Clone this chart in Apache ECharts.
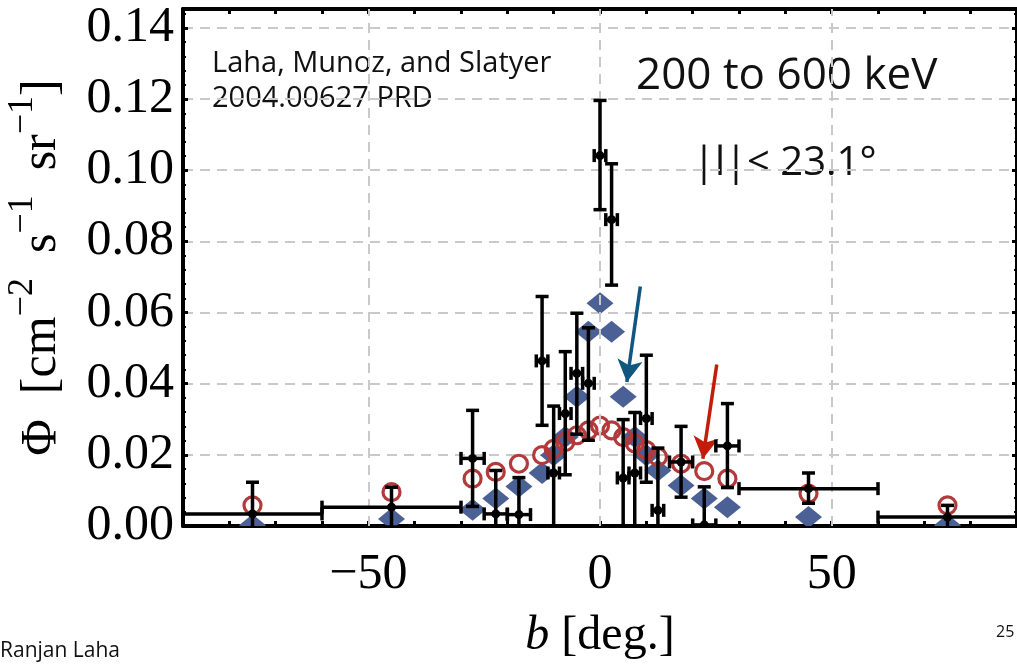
<!DOCTYPE html>
<html>
<head>
<meta charset="utf-8">
<script src="https://cdn.jsdelivr.net/npm/echarts@6/dist/echarts.min.js"></script>
<style>
  html, body { margin: 0; padding: 0; background: #ffffff; }
  #chart { width: 1017px; height: 668px; }
</style>
</head>
<body>
<div id="chart"></div>
<script>
// Measured flux per latitude bin (deg) with bin edges and 1-sigma range
const bCenter = [-75, -45, -27.5, -22.5, -17.5, -12.5, -10, -7.5, -5, -2.5, 0, 2.5, 5, 7.5, 10, 12.5, 17.5, 22.5, 27.5, 45, 75];
const bLow    = [-90, -60, -30, -25, -20, -13.75, -11.25, -8.75, -6.25, -3.75, -1.25, 1.25, 3.75, 6.25, 8.75, 11.25, 15, 20, 25, 30, 60];
const bHigh   = [-60, -30, -25, -20, -15, -11.25, -8.75, -6.25, -3.75, -1.25, 1.25, 3.75, 6.25, 8.75, 11.25, 13.75, 20, 25, 30, 60, 90];
const phi     = [0.0034, 0.0053, 0.0190, 0.0034, 0.0032, 0.0464, 0.0149, 0.0316, 0.0429, 0.0401, 0.1041, 0.0861, 0.0135, 0.0149, 0.0302, 0.0044, 0.0180, 0.0003, 0.0225, 0.0105, 0.0025];
const phiLow  = [-0.0055, -0.0003, 0.0055, -0.0088, -0.0072, 0.0283, -0.0039, 0.0144, 0.0258, 0.0241, 0.0889, 0.0677, -0.0030, -0.0020, 0.0123, -0.0130, 0.0081, -0.0104, 0.0108, 0.0064, -0.0008];
const phiHigh = [0.0123, 0.0109, 0.0325, 0.0156, 0.0136, 0.0645, 0.0337, 0.0490, 0.0598, 0.0557, 0.1196, 0.1018, 0.0299, 0.0319, 0.0480, 0.0219, 0.0280, 0.0110, 0.0344, 0.0149, 0.0058];

// Model predictions at the same bin centres
const modelB       = [-75, -45, -27.5, -22.5, -17.5, -12.5, -10, -7.5, -5, -2.5, 0, 2.5, 5, 7.5, 10, 12.5, 17.5, 22.5, 27.5, 45, 75];
const modelDiamond = [0.0002, 0.0020, 0.0046, 0.0077, 0.0111, 0.0149, 0.0199, 0.0250, 0.0363, 0.0546, 0.0626, 0.0546, 0.0363, 0.0250, 0.0199, 0.0156, 0.0114, 0.0077, 0.0053, 0.0025, 0.0002];
const modelCircle  = [0.0058, 0.0095, 0.0133, 0.0152, 0.0175, 0.0199, 0.0217, 0.0236, 0.0255, 0.0269, 0.0282, 0.0269, 0.0250, 0.0232, 0.0213, 0.0194, 0.0175, 0.0154, 0.0133, 0.0091, 0.0058];

// Axis ticks
const xLabelTicks = [-50, 0, 50];
const yLabelTicks = [0, 0.02, 0.04, 0.06, 0.08, 0.10, 0.12, 0.14];

// Arrow annotations [start, end] in data units
const blueArrow = [[8.7, 0.0673], [5.8, 0.0405]];
const redArrow  = [[25.2, 0.0454], [22.2, 0.0189]];

const serif = '"Liberation Serif", "DejaVu Serif", serif';
const hand = '"Open Sans", "Noto Sans", sans-serif';
const gridGray = '#c9c9c9';

const errorData = bCenter.map((b, i) => [b, bLow[i], bHigh[i], phi[i], phiLow[i], phiHigh[i]]);

function isLabelTick(v, list) {
  return list.some(t => Math.abs(t - v) < 1e-6);
}

// Black data point: horizontal bin bar, vertical error bar, end caps, dot
function renderError(params, api) {
  const x = api.value(0), xl = api.value(1), xh = api.value(2);
  const y = api.value(3), yl = api.value(4), yh = api.value(5);
  const c = api.coord([x, y]);
  const pl = api.coord([xl, y]);
  const ph = api.coord([xh, y]);
  const vl = api.coord([x, yl]);
  const vh = api.coord([x, yh]);
  const cap = 6.5;
  const st = { stroke: '#000', lineWidth: 3.5, fill: null };
  const seg = (x1, y1, x2, y2) => ({ type: 'line', shape: { x1, y1, x2, y2 }, style: st });
  return {
    type: 'group',
    children: [
      seg(vl[0], vl[1], vh[0], vh[1]),
      seg(vh[0] - cap, vh[1], vh[0] + cap, vh[1]),
      seg(vl[0] - cap, vl[1], vl[0] + cap, vl[1]),
      seg(pl[0], pl[1], ph[0], ph[1]),
      seg(pl[0], pl[1] - cap, pl[0], pl[1] + cap),
      seg(ph[0], ph[1] - cap, ph[0], ph[1] + cap),
      { type: 'circle', shape: { cx: c[0], cy: c[1], r: 4.5 }, style: { fill: '#000' } }
    ]
  };
}

// Filled diamond marker, clipped to the plot frame
function renderDiamond(params, api) {
  const p = api.coord([api.value(0), api.value(1)]);
  const hw = 13.5, hh = 11;
  return {
    type: 'polygon',
    shape: { points: [[p[0], p[1] - hh], [p[0] + hw, p[1]], [p[0], p[1] + hh], [p[0] - hw, p[1]]] },
    style: { fill: '#4b6095' }
  };
}

const chart = echarts.init(document.getElementById('chart'), null, { renderer: 'canvas' });

const xAxisBase = {
  type: 'value', min: -90, max: 90, interval: 10,
  axisLine: { show: true, onZero: false, lineStyle: { color: '#000', width: 4 } },
  axisTick: { show: true, inside: true, length: 5, lineStyle: { color: '#000', width: 3 } },
  splitLine: { show: false }
};
const yAxisBase = {
  type: 'value', min: 0, max: 0.1453, interval: 0.02,
  axisLine: { show: true, onZero: false, lineStyle: { color: '#000', width: 4 } },
  axisTick: { show: true, inside: true, length: 5, lineStyle: { color: '#000', width: 3 } },
  minorTick: { show: true, splitNumber: 5, length: 3, lineStyle: { color: '#000', width: 2 } }
};

chart.setOption({
  animation: false,
  backgroundColor: '#ffffff',
  grid: { left: 183, right: 0, top: 9, bottom: 142, containLabel: false, outerBoundsMode: 'none' },
  xAxis: [
    Object.assign({}, xAxisBase, {
      position: 'bottom',
      name: '{i|b} [deg.]',
      nameLocation: 'middle',
      nameGap: 86,
      nameTextStyle: {
        fontFamily: serif, fontSize: 48, color: '#000',
        rich: { i: { fontFamily: serif, fontStyle: 'italic', fontSize: 48, color: '#000' } }
      },
      axisLabel: {
        show: true, margin: 24, fontFamily: serif, fontSize: 50, color: '#000',
        showMinLabel: false, showMaxLabel: false,
        formatter: v => isLabelTick(v, xLabelTicks) ? (v < 0 ? '\u2212' + Math.abs(v) : String(v)) : ''
      }
    }),
    Object.assign({}, xAxisBase, { position: 'top', axisLabel: { show: false } })
  ],
  yAxis: [
    Object.assign({}, yAxisBase, {
      position: 'left',
      name: '{n|\u03A6\u2002[cm}{s|\u22122}{n|\u2002s}{s|\u22121}{n|\u2002sr}{s|\u22121}{n|]}',
      nameLocation: 'middle',
      nameGap: 116,
      nameRotate: 90,
      nameTextStyle: {
        color: '#000',
        rich: {
          n: { fontFamily: serif, fontSize: 50, color: '#000', lineHeight: 62, verticalAlign: 'bottom' },
          s: { fontFamily: serif, fontSize: 36, color: '#000', lineHeight: 62, verticalAlign: 'top' }
        }
      },
      axisLabel: {
        show: true, margin: 9, fontFamily: serif, fontSize: 50, color: '#000',
        showMaxLabel: false,
        formatter: v => isLabelTick(v, yLabelTicks) ? v.toFixed(2) : ''
      },
      splitLine: { show: true, lineStyle: { color: gridGray, width: 2, type: [10, 7] } }
    }),
    Object.assign({}, yAxisBase, { position: 'right', axisLabel: { show: false }, splitLine: { show: false } })
  ],
  series: [
    {
      // vertical dashed grid at labelled longitudes
      type: 'line', data: [], silent: true, z: 1,
      markLine: {
        silent: true, symbol: 'none', label: { show: false },
        lineStyle: { color: gridGray, width: 2, type: [10, 7] },
        data: xLabelTicks.map(v => ({ xAxis: v }))
      }
    },
    {
      name: 'diamond model', type: 'custom', z: 3, clip: true,
      renderItem: renderDiamond,
      encode: { x: 0, y: 1 },
      data: modelB.map((b, i) => [b, modelDiamond[i]])
    },
    {
      name: 'circle model', type: 'scatter', z: 4,
      symbol: 'circle', symbolSize: 17,
      itemStyle: { color: 'rgba(0,0,0,0)', borderColor: '#b3393a', borderWidth: 3.2, opacity: 1 },
      data: modelB.map((b, i) => [b, modelCircle[i]])
    },
    {
      name: 'data', type: 'custom', z: 5, clip: true,
      renderItem: renderError,
      encode: { x: [0, 1, 2], y: [3, 4, 5] },
      data: errorData
    },
    {
      type: 'line', data: [], silent: true, z: 6,
      markLine: {
        silent: true, symbol: ['none', 'arrow'], symbolSize: [19, 22], label: { show: false },
        data: [
          [{ coord: blueArrow[0], lineStyle: { color: '#11567f', width: 3.5, type: 'solid' } }, { coord: blueArrow[1] }],
          [{ coord: redArrow[0], lineStyle: { color: '#c21d0b', width: 3.5, type: 'solid' } }, { coord: redArrow[1] }]
        ]
      }
    }
  ],
  graphic: [
    { type: 'text', left: 212, top: 49, style: { text: 'Laha, Munoz, and Slatyer', font: '29px ' + hand, fill: '#111' } },
    { type: 'text', left: 212, top: 84, style: { text: '2004.00627 PRD', font: '29px ' + hand, fill: '#111' } },
    { type: 'text', left: 636, top: 54, style: { text: '200 to 600 keV', font: '44px ' + hand, fill: '#111' } },
    { type: 'text', left: 693, top: 144, style: { text: '|l|< 23.1\u00B0', font: '40px ' + hand, fill: '#111' } },
    { type: 'text', left: 0, top: 641, style: { text: 'Ranjan Laha', font: '21px ' + hand, fill: '#111' } },
    { type: 'text', left: 996, top: 624, style: { text: '25', font: '16px ' + hand, fill: '#111' } }
  ]
});
</script>
</body>
</html>
